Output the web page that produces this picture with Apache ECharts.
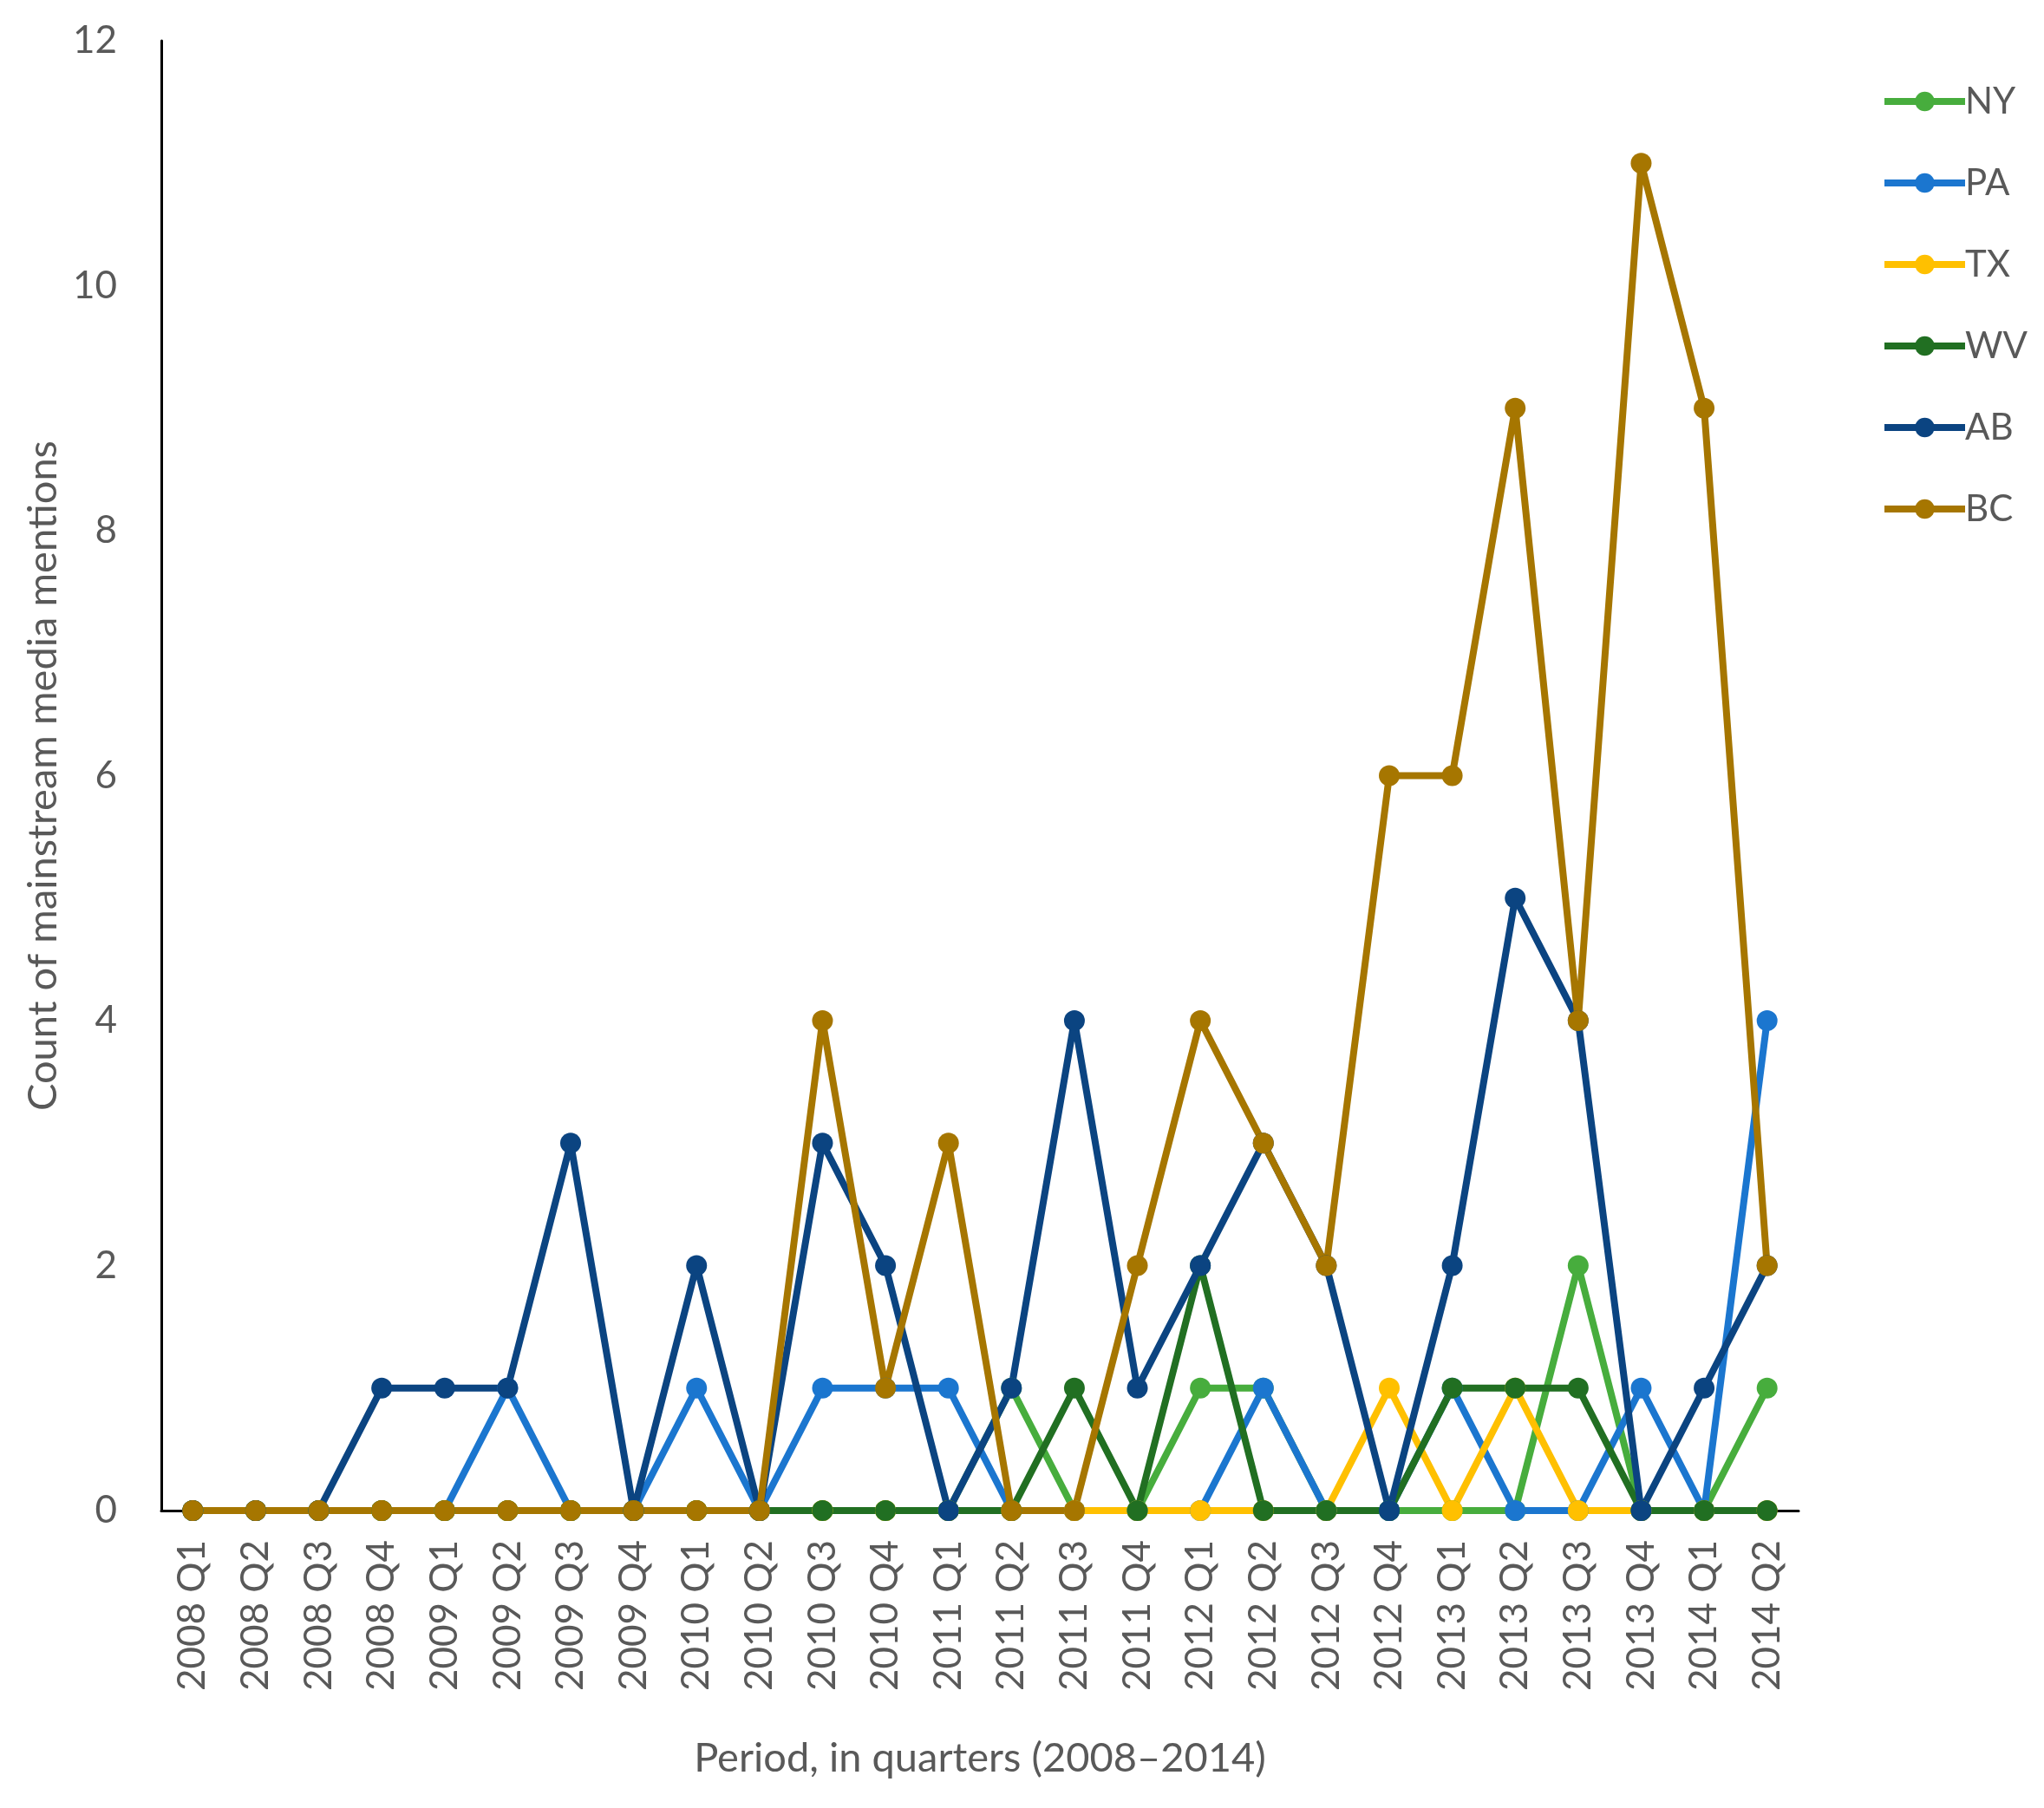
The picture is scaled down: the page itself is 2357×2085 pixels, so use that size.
<!DOCTYPE html>
<html>
<head>
<meta charset="utf-8">
<script src="https://cdn.jsdelivr.net/npm/echarts@6/dist/echarts.min.js"></script>
<style>
  html, body { margin: 0; padding: 0; background: #fff; }
  #chart { width: 2357px; height: 2085px; }
</style>
</head>
<body>
<div id="chart"></div>
<script>
const quarters = [
  "2008 Q1", "2008 Q2", "2008 Q3", "2008 Q4",
  "2009 Q1", "2009 Q2", "2009 Q3", "2009 Q4",
  "2010 Q1", "2010 Q2", "2010 Q3", "2010 Q4",
  "2011 Q1", "2011 Q2", "2011 Q3", "2011 Q4",
  "2012 Q1", "2012 Q2", "2012 Q3", "2012 Q4",
  "2013 Q1", "2013 Q2", "2013 Q3", "2013 Q4",
  "2014 Q1", "2014 Q2",
];

const ny = [0, 0, 0, 0, 0, 0, 0, 0, 0, 0, 0, 0, 0, 1, 0, 0, 1, 1, 0, 0, 0, 0, 2, 0, 0, 1];
const pa = [0, 0, 0, 0, 0, 1, 0, 0, 1, 0, 1, 1, 1, 0, 0, 0, 0, 1, 0, 0, 1, 0, 0, 1, 0, 4];
const tx = [0, 0, 0, 0, 0, 0, 0, 0, 0, 0, 0, 0, 0, 0, 0, 0, 0, 0, 0, 1, 0, 1, 0, 0, 0, 0];
const wv = [0, 0, 0, 0, 0, 0, 0, 0, 0, 0, 0, 0, 0, 0, 1, 0, 2, 0, 0, 0, 1, 1, 1, 0, 0, 0];
const ab = [0, 0, 0, 1, 1, 1, 3, 0, 2, 0, 3, 2, 0, 1, 4, 1, 2, 3, 2, 0, 2, 5, 4, 0, 1, 2];
const bc = [0, 0, 0, 0, 0, 0, 0, 0, 0, 0, 4, 1, 3, 0, 0, 2, 4, 3, 2, 6, 6, 9, 4, 11, 9, 2];

const seriesNames = ["NY", "PA", "TX", "WV", "AB", "BC"];
const seriesData = [ny, pa, tx, wv, ab, bc];
const colors = ["#47ad3d", "#1b76cf", "#ffc000", "#216f22", "#0b4481", "#a67600"];

const yTicks = { min: 0, max: 12, step: 2 };

const FONT = "Lato";
const GREY = "#595959";

const chart = echarts.init(document.getElementById("chart"));

const option = {
  backgroundColor: "#fff",
  color: colors,
  textStyle: { fontFamily: FONT },
  grid: {
    left: 186,
    right: 283,
    top: 47,
    bottom: 343,
  },
  legend: {
    orient: "vertical",
    left: 2164,
    top: 91,
    data: seriesNames,
    itemWidth: 93,
    itemHeight: 28,
    itemGap: 52,
    lineStyle: { width: 8 },
    textStyle: {
      fontFamily: FONT,
      fontSize: 42,
      color: GREY,
      lineHeight: 42,
      padding: [0, 0, 0, -5],
    },
  },
  xAxis: {
    type: "category",
    data: quarters,
    boundaryGap: true,
    name: "Period, in quarters (2008\u20132014)",
    nameLocation: "middle",
    nameGap: 262,
    nameTextStyle: {
      fontFamily: FONT,
      fontSize: 47,
      color: GREY,
      verticalAlign: "top",
    },
    axisLine: { lineStyle: { color: "#000", width: 3 } },
    axisTick: { show: false },
    axisLabel: {
      rotate: 90,
      margin: 34,
      interval: 0,
      fontFamily: FONT,
      fontSize: 44,
      color: GREY,
    },
    splitLine: { show: false },
  },
  yAxis: {
    type: "value",
    min: yTicks.min,
    max: yTicks.max,
    interval: yTicks.step,
    name: "Count of mainstream media mentions",
    nameLocation: "middle",
    nameGap: 100,
    nameTextStyle: {
      fontFamily: FONT,
      fontSize: 47,
      color: GREY,
    },
    axisLine: { show: true, lineStyle: { color: "#000", width: 3 } },
    axisTick: { show: false },
    axisLabel: {
      margin: 51,
      fontFamily: FONT,
      fontSize: 44,
      color: GREY,
    },
    splitLine: { show: false },
  },
  series: seriesNames.map((name, i) => ({
    name: name,
    type: "line",
    data: seriesData[i],
    symbol: "circle",
    symbolSize: 24,
    showAllSymbol: true,
    lineStyle: { width: 8, color: colors[i] },
    itemStyle: { color: colors[i] },
    emphasis: { disabled: true },
    animation: false,
  })),
};

chart.setOption(option);
</script>
</body>
</html>
